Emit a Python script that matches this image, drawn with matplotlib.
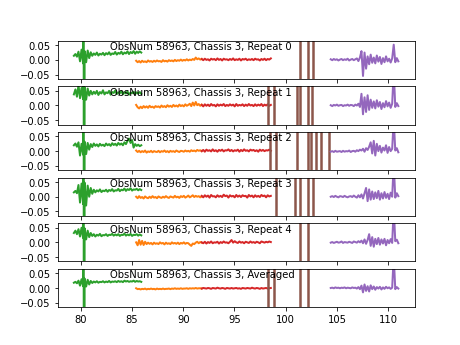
import numpy as np
import matplotlib
matplotlib.use("Agg")
import matplotlib.pyplot as plt

# panel titles
labels = ["ObsNum 58963, Chassis 3, Repeat 0",
          "ObsNum 58963, Chassis 3, Repeat 1",
          "ObsNum 58963, Chassis 3, Repeat 2",
          "ObsNum 58963, Chassis 3, Repeat 3",
          "ObsNum 58963, Chassis 3, Repeat 4",
          "ObsNum 58963, Chassis 3, Averaged"]

# frequency span of each band (GHz)
green_span = (79.32, 85.9)
orange_span = (85.4, 91.8)
red_span = (91.8, 98.55)
purple_span = (104.4, 111.0)

# green band has one off-scale spike in every panel
green_spike = 80.28

# band values, in units of 1e-3
green = [
    [14, 20, 11, 28, -5, 35, -12, 30, -8, 32, 6, 26, 14, 22, 17, 25, 15, 21, 18, 24, 16, 23, 19, 26, 17, 22, 20, 27, 18, 24, 21, 28, 19, 25, 22, 29, 20, 27, 23, 30, 21, 28, 24, 29, 25],
    [38, 55, 30, 70, 25, 60, 22, 62, 20, 58, 34, 50, 38, 47, 40, 50, 36, 46, 41, 52, 38, 45, 42, 50, 37, 46, 43, 51, 39, 45, 42, 49, 38, 46, 41, 48, 37, 44, 42, 47, 39, 45, 41, 46, 40],
    [20, 26, 15, 30, -15, 25, -12, 32, -10, 28, 5, 24, 14, 26, 18, 23, 16, 25, 19, 22, 17, 26, 20, 24, 18, 27, 21, 25, 19, 28, 22, 26, 20, 30, 24, 35, 43, 28, 38, 12, 24, 18, 22, 17, 20],
    [15, 20, 12, 40, -20, 45, -25, 48, -30, 38, 0, 30, 10, 24, 15, 22, 18, 25, 16, 21, 19, 24, 17, 23, 20, 26, 18, 22, 21, 27, 19, 24, 22, 28, 20, 26, 23, 29, 21, 25, 24, 27, 22, 26, 23],
    [32, 40, 28, 45, 20, 50, 15, 48, 10, 40, 18, 32, 22, 28, 20, 26, 23, 29, 21, 25, 24, 28, 22, 26, 25, 29, 23, 27, 24, 28, 22, 26, 25, 30, 23, 27, 24, 29, 22, 26, 25, 28, 23, 27, 24],
    [18, 21, 16, 25, 8, 30, 6, 32, 5, 28, 12, 24, 17, 22, 19, 23, 18, 21, 20, 23, 19, 22, 20, 24, 19, 22, 21, 23, 20, 24, 21, 23, 20, 25, 22, 24, 21, 23, 22, 25, 21, 24, 22, 23, 21],
]
orange = [
    [-3, -8, -4, -9, -3, -7, -5, -8, -2, -6, -4, -7, -3, -6, -2, -5, -4, -7, -1, -5, -3, -6, -1, -4, -2, -5, 0, -4, -1, -3, 1, -3, 0, -2, 2, -2, 1, -1, 3, 0, 8, 2, 5, 1, 3],
    [2, -6, -10, -4, -9, -2, -7, -3, -8, -1, -6, -4, -8, -2, -5, -3, -7, 0, -5, -2, -6, 1, -4, -1, -5, 2, -3, 0, -4, 3, -2, 1, -3, 4, -1, 2, 6, -2, 10, 0, 12, 1, 5, -1, 3],
    [2, -3, 1, -4, 0, -3, 2, -5, -1, -3, 1, -4, 0, -2, -3, 1, -4, 0, -2, 2, -3, 0, -4, 1, -2, 0, -3, 2, -1, -3, 1, 0, -2, 2, -1, 1, -2, 3, 0, 2, -1, 4, 1, 3, 0],
    [0, -5, 2, -4, -1, -6, 1, -3, -5, 0, -4, 2, -3, -1, -5, 1, -2, -4, 0, -3, 2, -2, -4, 1, -1, -3, 3, -2, 0, -4, 2, -1, 3, -3, 0, 4, -2, 1, 5, -1, 3, 0, 2, -2, 1],
    [0, -10, 8, -8, 5, -9, 2, -6, -1, -5, -2, -7, -1, -5, -3, -6, 0, -4, -2, -7, -1, -5, -3, -6, 0, -4, -2, -5, -1, -6, -2, -4, 0, -5, -2, -3, -8, -12, -4, -6, -1, 2, -3, 1, -1],
    [-1, -4, -3, -5, -3, -4, -2, -5, -3, -4, -2, -4, -3, -5, -2, -4, -3, -4, -2, -4, -3, -3, -2, -4, -2, -3, -1, -3, -2, -3, -1, -3, -2, -2, -1, -3, -1, -2, -1, -2, 0, -2, -1, -1, -2],
]
red = [
    [3, -1, 4, 0, 2, -2, 4, 1, 3, -1, 5, 0, 3, -2, 4, 1, 2, -1, 3, 0, 5, -1, 2, 0, 4, -2, 3, 1, 4, -1, 2, 0, 3, -1, 4, 1, 2, -2, 3, 0, 4, -1, 3, 1, 5],
    [2, -3, 4, -1, 3, -2, 5, 0, 2, -3, 4, -1, 3, 0, 5, -2, 2, -1, 4, 0, 3, -3, 5, -1, 2, 0, 4, -2, 3, -1, 5, 0, 2, -2, 4, -1, 3, 0, 5, -2, 3, 0, 4, -1, 2],
    [0, 4, -2, 5, 1, 3, -1, 6, 0, 3, -2, 4, 1, 5, -1, 3, 2, 6, 0, 4, -1, 3, 1, 5, -2, 4, 0, 6, 1, 3, -1, 5, 2, 4, 0, 3, -2, 5, 1, 4, 0, 3, 2, 5, 1],
    [3, -2, 5, 0, 4, -3, 6, 1, 2, -2, 5, 0, 3, -1, 7, 2, 4, -3, 5, 1, 3, -2, 6, 0, 4, -1, 5, 2, 3, -3, 6, 1, 4, -2, 5, 0, 3, -1, 6, 2, 4, -2, 5, 1, 3],
    [0, -3, 2, -4, 1, -2, 3, -3, 0, -1, 2, -4, 1, -2, 3, -1, 0, -3, 2, 8, -1, 4, 0, -2, 3, -1, 1, -3, 2, 0, -2, 3, -1, 1, -2, 2, 0, -3, 3, 1, -1, 2, 0, 3, 1],
    [-2, 0, -1, -2, 0, -1, -3, 0, -1, -2, 1, -1, -2, 0, -1, -3, 0, -1, -2, 0, -2, -1, 0, -2, -1, -3, 0, -1, -2, 0, -1, -2, 1, -1, -2, 0, -1, -3, 0, -2, -1, 0, -2, -1, 0],
]
purple = [
    [2, -1, 3, 0, 2, -2, 1, 3, -1, 2, 0, 4, -2, 1, 3, -1, 2, 5, -4, 8, 30, -55, 25, -30, 12, -15, 18, -10, 8, -12, 15, -6, 10, -14, 6, -8, 12, -5, 4, -9, 5, 52, -8, 6, -5],
    [1, -2, 2, 0, 3, -1, 1, 2, -2, 1, 0, 3, -1, 2, 1, -2, 3, 0, 6, -5, 40, -30, 28, -22, 35, -15, 20, -8, 14, -10, 18, -4, 12, -12, 8, -6, 15, -3, 10, -8, 6, 120, -5, 8, -2],
    [-2, 0, -3, 1, -2, -1, 0, -3, 1, -2, 0, -1, 2, -3, 0, 1, -2, 3, 0, 5, 2, 8, -2, 10, 4, 15, 30, -8, 35, -15, 25, 0, 18, -5, 12, 2, 20, -6, 14, 0, 8, 110, 2, 10, -4],
    [0, 2, -1, 3, 0, -2, 2, 1, -1, 3, 0, -2, 1, 2, -1, 4, 0, -3, 5, -2, 8, -6, 12, 30, -15, 25, -10, 18, -8, 15, -5, 20, -10, 12, -6, 16, -4, 10, -8, 14, 0, 115, -3, 12, 2],
    [-1, 1, -2, 0, 2, -1, 0, 3, -2, 1, 0, -1, 2, 0, -2, 3, 1, -1, 4, 0, 6, -3, 10, -5, 8, 28, -12, 18, -15, 12, -6, 15, -8, 10, -4, 12, -10, 8, -3, 11, -2, 118, 4, 9, -3],
    [0, 1, -1, 2, 0, 1, -1, 1, 0, 2, -1, 1, 0, -1, 2, 0, 1, -2, 3, -4, 8, -15, 12, -10, 6, -12, 9, -4, 5, -6, 3, -2, 4, -5, 2, -3, 4, -1, 2, -3, 1, 110, -4, 3, -2],
]
# brown band is off scale except where it swings through zero
brown_swings = [
    [101.44, 102.26, 102.68],
    [98.29, 98.94, 101.15, 101.48, 102.26, 102.65],
    [98.55, 99.1, 101.15, 102.26, 102.52, 103.0, 103.5, 104.3],
    [99.1, 100.96, 101.44, 102.26, 102.68],
    [101.44, 102.26],
    [98.29, 98.94, 101.44, 102.26],
]

BIG = 5.0


def band(span, vals, spike=None):
    x = np.linspace(span[0], span[1], len(vals))
    y = np.array(vals) * 1e-3
    if spike is not None:
        # off-scale excursion up then down, between two samples
        k = np.searchsorted(x, spike)
        x = np.insert(x, k, [spike - 0.02, spike + 0.02])
        y = np.insert(y, k, [BIG, -BIG])
    return x, y


def swings(centers, half=0.05):
    xs, ys = [], []
    for c in centers:
        xs += [c - half, c - half, c + half, c + half]
        ys += [-BIG, BIG, BIG, -BIG]
    return xs, ys


fig, axes = plt.subplots(6, 1, sharex=True, figsize=(6.4, 4.8), dpi=72)

for i, ax in enumerate(axes):
    ax.plot(*band(green_span, green[i], green_spike), color="tab:green", lw=2)
    ax.plot(*band(orange_span, orange[i]), color="tab:orange", lw=2)
    ax.plot(*band(red_span, red[i]), color="tab:red", lw=2)
    ax.plot(*swings(brown_swings[i]), color="tab:brown", lw=1.5)
    ax.plot(*band(purple_span, purple[i]), color="tab:purple", lw=2)
    ax.set_ylim(-0.065, 0.065)
    ax.text(0.148, 0.98, labels[i], transform=ax.transAxes, va="top", fontsize=10)

axes[0].set_xlim(77.73, 112.6)
axes[-1].set_xticks([80, 85, 90, 95, 100, 105, 110])

fig.savefig("out.png", dpi=72)
